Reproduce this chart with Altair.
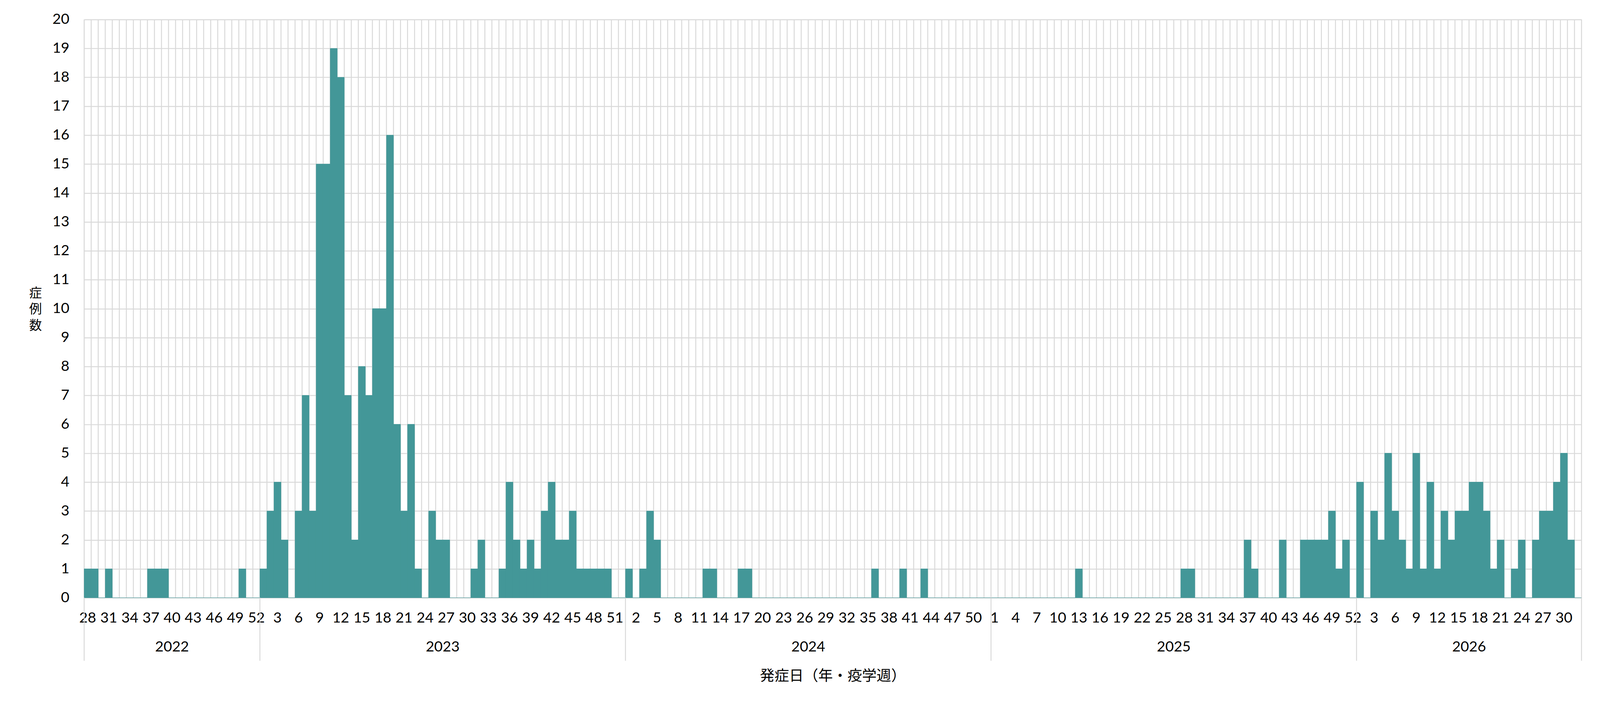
import altair as alt
import pandas as pd

# ---- data ----
years = [2022, 2023, 2024, 2025, 2026]
first_week = [28, 1, 1, 1, 1]

cases_2022 = [1, 1, 0, 1, 0, 0, 0, 0, 0, 1, 1, 1,
              0, 0, 0, 0, 0, 0, 0, 0, 0, 0, 1, 0, 0]
cases_2023 = [1, 3, 4, 2, 0, 3, 7, 3, 15, 15,
              19, 18, 7, 2, 8, 7, 10, 10, 16, 6,
              3, 6, 1, 0, 3, 2, 2, 0, 0, 0,
              1, 2, 0, 0, 1, 4, 2, 1, 2, 1,
              3, 4, 2, 2, 3, 1, 1, 1, 1, 1,
              0, 0]
cases_2024 = [1, 0, 1, 3, 2, 0, 0, 0, 0, 0,
              0, 1, 1, 0, 0, 0, 1, 1, 0, 0,
              0, 0, 0, 0, 0, 0, 0, 0, 0, 0,
              0, 0, 0, 0, 0, 1, 0, 0, 0, 1,
              0, 0, 1, 0, 0, 0, 0, 0, 0, 0,
              0, 0]
cases_2025 = [0, 0, 0, 0, 0, 0, 0, 0, 0, 0,
              0, 0, 1, 0, 0, 0, 0, 0, 0, 0,
              0, 0, 0, 0, 0, 0, 0, 1, 1, 0,
              0, 0, 0, 0, 0, 0, 2, 1, 0, 0,
              0, 2, 0, 0, 2, 2, 2, 2, 3, 1,
              2, 0]
cases_2026 = [4, 0, 3, 2, 5, 3, 2, 1, 5, 1,
              4, 1, 3, 2, 3, 3, 4, 4, 3, 1,
              2, 0, 1, 2, 0, 2, 3, 3, 4, 5,
              2, 0]
cases_by_year = [cases_2022, cases_2023, cases_2024, cases_2025, cases_2026]

y_ticks = list(range(0, 21))
x_title = "発症日（年・疫学週）"
y_title = ["症", "例", "数"]

# ---- build tables ----
rows = []
i = 0
for yr, fw, vals in zip(years, first_week, cases_by_year):
    for k, v in enumerate(vals):
        rows.append({"year": yr, "week": fw + k, "i": i, "i1": i + 1,
                     "mid": i + 0.5, "cases": v, "zero": 0})
        i += 1
df = pd.DataFrame(rows)
n = len(df)

label_df = df[df["i"] % 3 == 0]

bounds = df.groupby("year")["i"].agg(["min", "max"]).reset_index()
bounds["start"] = bounds["min"]
bounds["end"] = bounds["max"] + 1
bounds["center"] = (bounds["start"] + bounds["end"]) / 2
bounds["label"] = bounds["year"].astype(str)

sep_df = pd.DataFrame({"b": list(bounds["start"]) + [n]})
grid_df = pd.DataFrame({"b": list(range(n + 1))})
title_df = pd.DataFrame({"x": [n / 2], "t": [x_title]})

# ---- styling ----
W, H = 3899, 1505
TEAL = "#439798"
GRID = "#D9D9D9"
LAT = "Lato"
JP = "Noto Sans CJK JP"

xs = alt.Scale(domain=[0, n], nice=False, zero=False)

y_axis = alt.Axis(values=y_ticks, grid=True, gridColor=GRID, gridWidth=2.5,
                  domain=False, ticks=False, labelFont=LAT, labelFontSize=38,
                  labelColor="#000000", labelPadding=39,
                  title=y_title, titleAngle=0, titleX=-127, titleY=713,
                  titleAlign="center", titleBaseline="middle",
                  titleLineHeight=42, titleFont=JP, titleFontSize=33,
                  titleFontWeight="normal", titleColor="#000000")

vgrid = alt.Chart(grid_df).mark_rule(color=GRID, strokeWidth=2.5).encode(
    x=alt.X("b:Q", scale=xs, axis=None),
    y=alt.value(0), y2=alt.value(H))

bars = alt.Chart(df).mark_rect(color=TEAL, stroke=TEAL, strokeWidth=1).encode(
    x=alt.X("i:Q", scale=xs, axis=None),
    x2="i1:Q",
    y=alt.Y("cases:Q", scale=alt.Scale(domain=[0, 20], nice=False), axis=y_axis),
    y2="zero:Q")

week_labels = alt.Chart(label_df).mark_text(
    font=LAT, fontSize=38, color="#000000", align="center", baseline="middle"
).encode(x=alt.X("mid:Q", scale=xs, axis=None), y=alt.value(1559), text="week:N")

year_labels = alt.Chart(bounds).mark_text(
    font=LAT, fontSize=38, color="#000000", align="center", baseline="middle"
).encode(x=alt.X("center:Q", scale=xs, axis=None), y=alt.value(1634), text="label:N")

seps = alt.Chart(sep_df).mark_rule(color=GRID, strokeWidth=2.5).encode(
    x=alt.X("b:Q", scale=xs, axis=None),
    y=alt.value(H), y2=alt.value(1669))

x_title_mark = alt.Chart(title_df).mark_text(
    font=JP, fontSize=38, color="#000000", align="center", baseline="middle"
).encode(x=alt.X("x:Q", scale=xs, axis=None), y=alt.value(1710), text="t:N")

chart = alt.layer(vgrid, bars, week_labels, year_labels, seps, x_title_mark).properties(
    width=W, height=H,
    autosize="none",
    padding={"left": 211, "top": 27, "right": 40, "bottom": 290},
).configure_view(stroke=GRID, strokeWidth=2.5, fill="#EAEAEA"
).configure(background="white")

chart.save("out.html", embed_options={"renderer": "svg", "actions": False})
